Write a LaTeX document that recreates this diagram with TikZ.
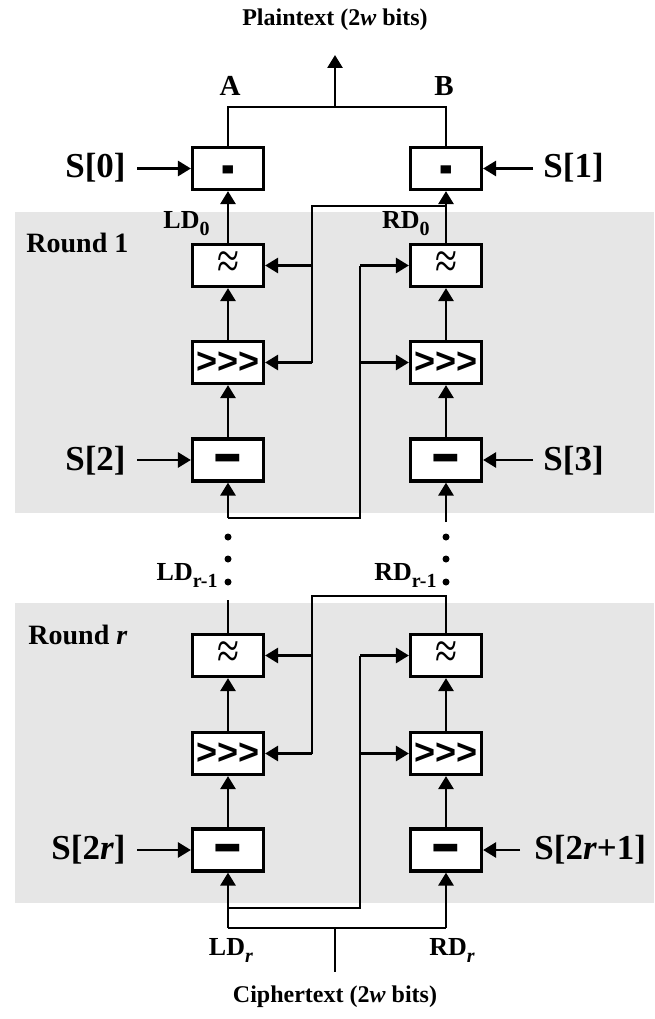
\documentclass[tikz,border=0pt]{standalone}
\usepackage{fontspec}
\usepackage{graphicx}
\setmainfont{Liberation Serif}
\newfontfamily\sansb{Liberation Sans}
\usetikzlibrary{arrows.meta,calc}
\definecolor{roundgray}{HTML}{E6E6E6}
\newcommand\dsub[1]{\raisebox{-7pt}{\fontsize{20}{20}\selectfont #1}}
\newcommand\smallminus{\raisebox{-19pt}[0pt][0pt]{\sansb\bfseries\fontsize{34}{34}\selectfont\scalebox{1.2}[2]{-}}}
\newcommand\bigminus{\raisebox{-18pt}[0pt][0pt]{\sansb\bfseries\fontsize{40}{40}\selectfont\scalebox{1.2}[1.9]{–}}}
\newcommand\approxsym{{\fontsize{40}{40}\selectfont\scalebox{1}[1.3]{≈}}}
\newcommand\rotsym{{\sansb\bfseries\fontsize{36}{36}\selectfont >>>}}
\begin{document}
\begin{tikzpicture}[x=1pt,y=-1pt,
  line width=2.8pt,
  box/.style={draw, line width=3.2pt, fill=white, minimum width=71pt, minimum height=42pt, inner sep=0pt},
  arr/.style={-{Triangle[length=13pt,width=15pt]}},
  lbl/.style={font=\fontsize{24}{24}\selectfont\bfseries, inner sep=0pt},
  ablbl/.style={font=\fontsize{29}{29}\selectfont\bfseries, inner sep=0pt},
  rlbl/.style={font=\fontsize{28}{28}\selectfont\bfseries, inner sep=0pt},
  slbl/.style={font=\fontsize{35}{35}\selectfont\bfseries, inner sep=0pt},
  dlbl/.style={font=\fontsize{26}{26}\selectfont\bfseries, inner sep=0pt},
  dot/.style={circle, fill=black, inner sep=0pt, minimum size=7pt}]
\fill[white] (0,0) rectangle (654,1019);
\useasboundingbox (0,0) rectangle (654,1019);
\fill[roundgray] (15,212) rectangle (654,513);
\fill[roundgray] (15,603) rectangle (654,903);

% labels
\node[lbl] (plain) at (335,20) {Plaintext (2\textit{w} bits)};
\node[lbl] (cipher) at (335,997) {Ciphertext (2\textit{w} bits)};
\node[ablbl] (A) at (230,86) {A};
\node[ablbl] (B) at (444,86) {B};
\node[rlbl, anchor=west] (r1) at (25,243) {Round 1};
\node[rlbl, anchor=west] (rr) at (27,635) {Round \textit{r}};

% boxes
\node[box] (tL) at (228,168.5) {\smallminus};
\node[box] (tR) at (446,168.5) {\smallminus};
\node[box] (aL) at (228,265.5) {\approxsym};
\node[box] (aR) at (446,265.5) {\approxsym};
\node[box] (bL) at (228,362.5) {\rotsym};
\node[box] (bR) at (446,362.5) {\rotsym};
\node[box] (cL) at (228,460) {\bigminus};
\node[box] (cR) at (446,460) {\bigminus};
\node[box] (a2L) at (228,655.5) {\approxsym};
\node[box] (a2R) at (446,655.5) {\approxsym};
\node[box] (b2L) at (228,753.5) {\rotsym};
\node[box] (b2R) at (446,753.5) {\rotsym};
\node[box] (c2L) at (228,850) {\bigminus};
\node[box] (c2R) at (446,850) {\bigminus};

% S labels
\node[slbl, anchor=east] (s0) at (127,168) {S[0]};
\node[slbl, anchor=west] (s1) at (542,168) {S[1]};
\node[slbl, anchor=east] (s2) at (127,461) {S[2]};
\node[slbl, anchor=west] (s3) at (542,461) {S[3]};
\node[slbl, anchor=east] (s2r) at (127,850) {S[2\textit{r}]};
\node[slbl, anchor=west] (s2r1) at (533,850) {S[2\textit{r}+1]};
\draw[arr, shorten <=10pt] (s0.east |- tL.west) -- (tL.west);
\draw[arr, shorten <=9pt] (s1.west |- tR.east) -- (tR.east);
\draw[arr, shorten <=10pt] (s2.east |- cL.west) -- (cL.west);
\draw[arr, shorten <=9pt] (s3.west |- cR.east) -- (cR.east);
\draw[arr, shorten <=10pt] (s2r.east |- c2L.west) -- (c2L.west);
\draw[arr, shorten <=13pt] (s2r1.west |- c2R.east) -- (c2R.east);

% data labels
\node[dlbl, anchor=base east] (ld0) at (211,228) {LD\dsub{0}};
\node[dlbl, anchor=base east] (rd0) at (431,228) {RD\dsub{0}};
\node[dlbl, anchor=base east] (ldr1) at (219,580) {LD\dsub{r-1}};
\node[dlbl, anchor=base east] (rdr1) at (438,580) {RD\dsub{r-1}};
\node[dlbl, anchor=base] (ldr) at (231,955) {LD\dsub{\textit{r}}};
\node[dlbl, anchor=base] (rdr) at (452,955) {RD\dsub{\textit{r}}};

% output
\coordinate (jL) at (228,107);
\coordinate (jR) at (446,107);
\coordinate (jM) at (335,107);
\coordinate (ptip) at (335,55);
\draw (tL.north) -- (jL) -- (jR) -- (tR.north);
\draw[arr] (jM) -- (ptip);

% round 1
\draw[arr] (aL) -- (tL);
\draw[arr] (aR) -- (tR);
\draw[arr] (bL) -- (aL);
\draw[arr] (bR) -- (aR);
\draw[arr] (cL) -- (bL);
\draw[arr] (cR) -- (bR);
\coordinate (f1a) at (446,206);
\coordinate (f1b) at (312,206);
\coordinate (f1c) at (312,362.5);
\draw (f1a) -- (f1b) -- (f1c);
\draw[arr] (f1b |- aL.east) -- (aL.east);
\draw[arr] (f1c) -- (bL.east);
\coordinate (g1a) at (228,518);
\coordinate (g1b) at (360,518);
\coordinate (g1c) at (360,265.5);
\draw (g1a) -- (g1b) -- (g1c);
\draw[arr] (g1c) -- (aR.west);
\draw[arr] (g1b |- bR.west) -- (bR.west);
\draw[arr] (g1a) -- (cL);
\coordinate (h1) at (446,522);
\draw[arr] (h1) -- (cR);

% dots
\node[dot] (dL1) at (228,537) {};
\node[dot] (dL2) at (228,559) {};
\node[dot] (dL3) at (228,582) {};
\node[dot] (dR1) at (446,537) {};
\node[dot] (dR2) at (446,559) {};
\node[dot] (dR3) at (446,582) {};

% round r
\coordinate (u2L) at (228,600);
\draw (u2L) -- (a2L);
\coordinate (f2a) at (446,596);
\coordinate (f2b) at (312,596);
\coordinate (f2c) at (312,753.5);
\draw (f2c) -- (f2b) -- (f2a) -- (a2R);
\draw[arr] (f2b |- a2L.east) -- (a2L.east);
\draw[arr] (f2c) -- (b2L.east);
\draw[arr] (b2L) -- (a2L);
\draw[arr] (b2R) -- (a2R);
\draw[arr] (c2L) -- (b2L);
\draw[arr] (c2R) -- (b2R);
\coordinate (g2a) at (228,908);
\coordinate (g2b) at (360,908);
\coordinate (g2c) at (360,655.5);
\draw (g2a) -- (g2b) -- (g2c);
\draw[arr] (g2c) -- (a2R.west);
\draw[arr] (g2b |- b2R.west) -- (b2R.west);
\coordinate (kL) at (228,928);
\coordinate (kR) at (446,928);
\coordinate (kM) at (335,928);
\coordinate (kB) at (335,972);
\draw (kL) -- (kR);
\draw (kM) -- (kB);
\draw[arr] (kL) -- (c2L);
\draw[arr] (kR) -- (c2R);
\end{tikzpicture}
\end{document}
